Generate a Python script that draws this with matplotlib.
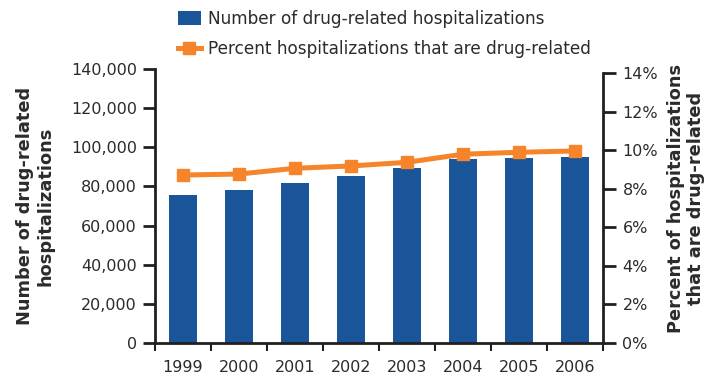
import matplotlib
matplotlib.use("Agg")
import matplotlib.pyplot as plt
from matplotlib.patches import Patch
from matplotlib.lines import Line2D
import numpy as np

years = ["1999", "2000", "2001", "2002", "2003", "2004", "2005", "2006"]
hospitalizations = [75600, 78200, 81900, 85400, 89600, 94000, 94700, 95200]
percent_drug_related = [8.72, 8.77, 9.07, 9.19, 9.38, 9.80, 9.90, 9.97]

left_ticks = [0, 20000, 40000, 60000, 80000, 100000, 120000, 140000]
right_ticks = [0, 2, 4, 6, 8, 10, 12, 14]

BLUE = "#1A5599"
ORANGE = "#F5842A"
INK = "#231F20"
TEXT = "#2B2B2B"

plt.rcParams["font.family"] = ["DejaVu Sans"]

fig = plt.figure(figsize=(7.15, 3.77), dpi=100)
ax = fig.add_axes([155 / 715, 34 / 377, 448 / 715, 274 / 377])
ax2 = ax.twinx()

x = np.arange(len(years))
ax.bar(x, hospitalizations, width=0.5, color=BLUE, zorder=2)
ax2.plot(x, percent_drug_related, color=ORANGE, lw=3.6, marker="s",
         markersize=8, zorder=3, solid_joinstyle="round")

ax.set_xlim(-0.5, len(years) - 0.5)
ax.set_ylim(0, 140000)
ax2.set_ylim(0, 14 * 274 / 269.7)
ax2.spines["right"].set_bounds(0, 14)

# boundary ticks on the x axis, labels centred under each bar
ax.set_xticks(np.arange(-0.5, len(years), 1.0))
ax.set_xticklabels([])
ax.set_xticks(x, minor=True)
ax.set_xticklabels(years, minor=True)
ax.tick_params(axis="x", which="major", direction="out", length=6, width=1.5, color=INK)
ax.tick_params(axis="x", which="minor", length=0, pad=12, labelsize=11.5, labelcolor=TEXT)

ax.set_yticks(left_ticks)
ax.set_yticklabels([f"{v:,}" for v in left_ticks])
ax.tick_params(axis="y", direction="out", length=9, width=2, color=INK,
               labelsize=11.5, labelcolor=TEXT, pad=4)
ax2.set_yticks(right_ticks)
ax2.set_yticklabels([f"{v}%" for v in right_ticks])
ax2.tick_params(axis="y", direction="out", length=9, width=2, color=INK,
                labelsize=11.5, labelcolor=TEXT, pad=5)

for a in (ax, ax2):
    a.spines["top"].set_visible(False)
    for s in ("left", "right", "bottom"):
        a.spines[s].set_color(INK)
        a.spines[s].set_linewidth(2)
ax.spines["right"].set_visible(False)
ax2.spines["left"].set_visible(False)
ax2.spines["bottom"].set_visible(False)

fig.text(35 / 715, 1 - 206 / 377, "Number of drug-related\nhospitalizations",
         rotation=90, ha="center", va="center", multialignment="center",
         fontsize=12.8, fontweight="bold", color=TEXT, linespacing=1.15)
fig.text(686 / 715, 1 - 198 / 377, "Percent of hospitalizations\nthat are drug-related",
         rotation=90, ha="center", va="center", multialignment="center",
         fontsize=12.8, fontweight="bold", color=TEXT, linespacing=1.15)

handles = [
    Patch(facecolor=BLUE, edgecolor="none"),
    Line2D([0], [0], color=ORANGE, lw=3.6, marker="s", markersize=8),
]
labels = ["Number of drug-related hospitalizations",
          "Percent hospitalizations that are drug-related"]
fig.legend(handles, labels, loc="upper left", bbox_to_anchor=(178 / 715, 1 - 10 / 377),
           frameon=False, borderpad=0, borderaxespad=0, handlelength=1.35,
           handleheight=0.85, handletextpad=0.45, labelspacing=0.7,
           fontsize=12.2, labelcolor=TEXT)

fig.savefig("out.png", dpi=100)
